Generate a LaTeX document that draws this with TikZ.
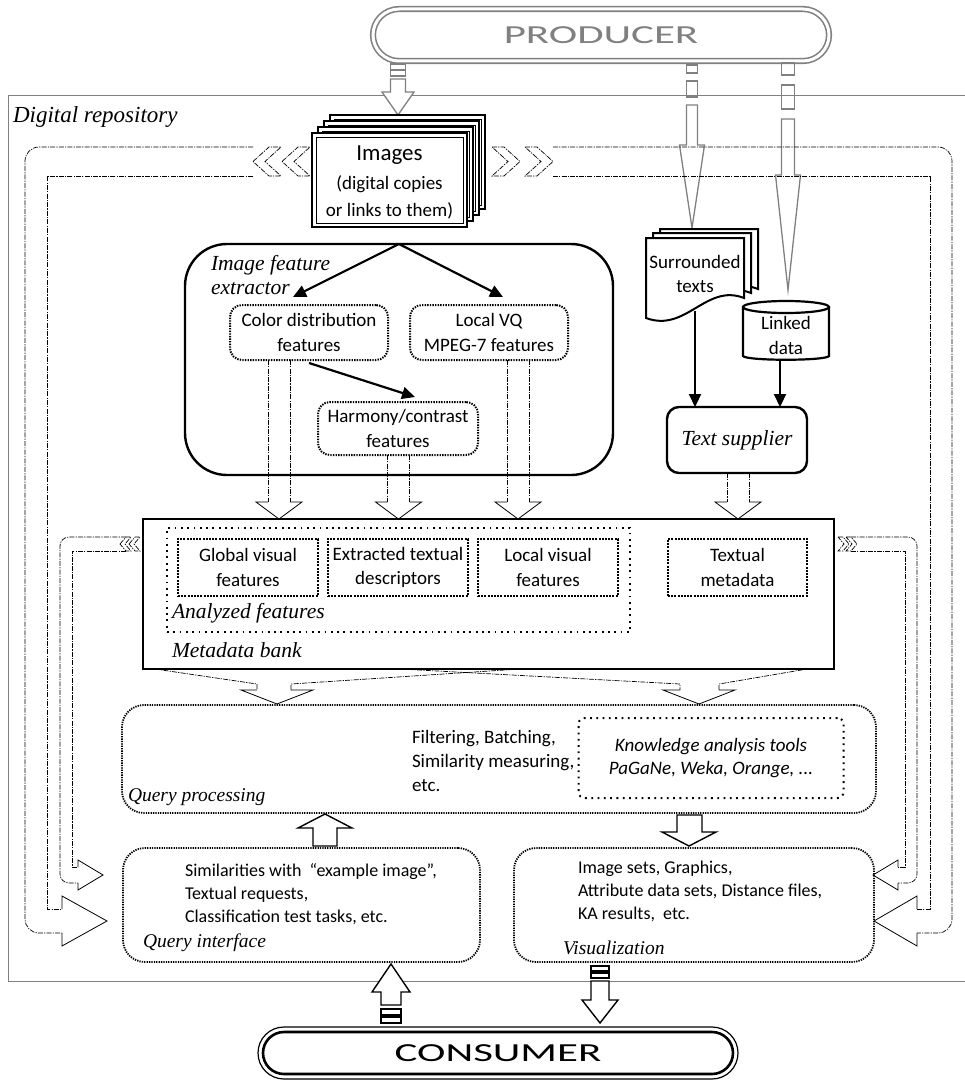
\documentclass[tikz,border=0pt]{standalone}
\usepackage{fontspec}
\setmainfont{Carlito}
\newfontfamily\tagserif{Liberation Serif}
\usetikzlibrary{arrows.meta,calc}

\tikzset{
  every node/.style={inner sep=0pt, outer sep=0pt, align=center},
  txt/.style={font=\fontsize{19}{24.5}\selectfont},
  txtlow/.style={font=\fontsize{18}{23}\selectfont},
  tagtxt/.style={font=\fontsize{21.5}{24}\selectfont\tagserif\itshape},
  tagsmall/.style={font=\fontsize{19.5}{22}\selectfont\tagserif\itshape},
  pilltxt/.style={font=\fontsize{26}{26}\selectfont},
  dashdot/.style={line width=0.7pt, dash pattern=on 5pt off 1.2pt on 1.2pt off 1.2pt},
  headline/.style={line width=0.8pt},
  roundbox/.style={draw, line width=2.4pt, rounded corners=12pt},
  featbox/.style={draw, line width=2pt, dash pattern=on 1.4pt off 1.2pt, rounded corners=12pt},
  anbox/.style={draw, line width=2.2pt, dash pattern=on 2pt off 1.2pt},
  spdot/.style={draw, line width=2pt, dash pattern=on 1.8pt off 4.5pt},
  procbox/.style={draw, line width=1.8pt, dash pattern=on 1.3pt off 1.1pt, rounded corners=22pt},
  flow/.style={line width=2.2pt, -{Triangle[length=13pt,width=12pt]}},
  block/.style={draw, line width=1.4pt, fill=white},
  gblock/.style={draw=gray, line width=1.3pt},
}

% hollow downward arrow: x centre, shaft top, head top, tip
\newcommand{\featarrow}[4]{%
  \draw[dashdot] ({#1-11},#2) -- ({#1-11},#3);
  \draw[dashdot] ({#1+11},#2) -- ({#1+11},#3);
  \draw[headline] ({#1-11},#3) -- ({#1-23},#3) -- (#1,#4) -- ({#1+23},#3) -- ({#1+11},#3);
}
% chevron pointing left: tip x, top y, bottom y, depth, thickness
\newcommand{\chevleft}[5]{%
  \draw[dashdot] (#1,{(#2+#3)/2}) -- ({#1+#4},#2) -- ({#1+#4+#5},#2) -- ({#1+#5},{(#2+#3)/2})
    -- ({#1+#4+#5},#3) -- ({#1+#4},#3) -- cycle;
}
% chevron pointing right: back x, top y, bottom y, depth, thickness
\newcommand{\chevright}[5]{%
  \draw[dashdot] (#1,#2) -- ({#1+#5},#2) -- ({#1+#4+#5},{(#2+#3)/2}) -- ({#1+#5},#3)
    -- (#1,#3) -- ({#1+#4},{(#2+#3)/2}) -- cycle;
}

\begin{document}
\begin{tikzpicture}[x=1pt,y=-1pt]
\useasboundingbox (0,0) rectangle (965,1081);

% ---------- repository frame ----------
\draw[gray, line width=1pt] (968,95) -- (8,95) -- (8,981) -- (968,981);
\node[tagtxt, font=\fontsize{23}{24}\selectfont\tagserif\itshape, anchor=west] (repo) at (13,117) {Digital repository};

% ---------- producer ----------
\node[draw=gray, line width=1.6pt, double=white, double distance=3pt, rounded corners=26pt,
      minimum width=456pt, minimum height=52pt, text=gray, pilltxt] (producer) at (601,35) {\scalebox{1.65}[1]{PRODUCER}};

% striped arrow to the image store
\draw[gblock] (390.5,64) rectangle (405.5,70);
\draw[gblock] (390.5,70) rectangle (405.5,76);
\draw[gblock, fill=white] (390.5,79) -- (390.5,92) -- (382,92) -- (398,115) -- (414,92) -- (405.5,92) -- (405.5,79) -- cycle;

% striped arrows to the text sources
\draw[gblock] (686.5,65) rectangle (697.5,73);
\draw[gblock] (686.5,81) rectangle (697.5,97);
\draw[gblock] (686.5,105) -- (686.5,145) -- (679.5,145) -- (692,228) -- (704.5,145) -- (697.5,145) -- (697.5,105) -- cycle;
\draw[gblock] (781.5,63) rectangle (794.5,75);
\draw[gblock] (781.5,85) rectangle (794.5,109);
\draw[gblock] (781.5,119) -- (781.5,175) -- (775.5,175) -- (788,290) -- (800.5,175) -- (794.5,175) -- (794.5,119) -- cycle;

% ---------- outer loop (image store -> interfaces) ----------
\chevleft{253}{147}{176}{16}{12}
\chevleft{282}{147}{176}{16}{12}
\chevright{492}{147}{176}{16}{12}
\chevright{525}{147}{176}{16}{12}
\draw[dashdot, rounded corners=14pt] (253,147) -- (25,147) -- (25,933) -- (62,933);
\draw[dashdot] (253,176) -- (47,176) -- (47,909) -- (62,909);
\draw[headline] (62,909) -- (62,896) -- (107,921) -- (62,946) -- (62,933);
\draw[dashdot, rounded corners=14pt] (553,147) -- (952,147) -- (952,933) -- (917,933);
\draw[dashdot] (553,176) -- (930,176) -- (930,909) -- (917,909);
\draw[headline] (917,909) -- (917,896) -- (874,921) -- (917,946) -- (917,933);

% ---------- image store ----------
\foreach \k in {3,2,1} {
  \draw[line width=2.2pt, fill=white] ({312+6*\k},{133-6*\k}) rectangle ({467+6*\k},{227-6*\k});
  \draw[line width=0.8pt] ({316+6*\k},{137-6*\k}) rectangle ({463+6*\k},{223-6*\k});
}
\node[draw, line width=2.2pt, fill=white, minimum width=155pt, minimum height=94pt] (images) at (389.5,180) {};
\draw[line width=0.8pt] ($(images.south west)+(4,-4)$) rectangle ($(images.north east)+(-4,4)$);
\node[font=\fontsize{23}{23}\selectfont] (imgtitle) at (389.5,155) {Images};
\node[font=\fontsize{19}{27}\selectfont] (imgsub) at (389.5,197) {(digital copies\\or links to them)};

% ---------- image feature extractor ----------
\node[roundbox, rounded corners=42pt, minimum width=428pt, minimum height=231pt] (extractor) at (399,359.5) {};
\node[tagtxt, anchor=west, align=left] (extlabel) at (211,275) {Image feature\\extractor};
\node[featbox, txt, minimum width=158pt, minimum height=55pt] (colordist) at (309,332.5) {Color distribution\\features};
\node[featbox, txt, minimum width=158pt, minimum height=55pt] (localvq) at (489,332.5) {Local VQ\\MPEG-7 features};
\node[featbox, txt, minimum width=160pt, minimum height=53pt] (harmony) at (398,428.5) {Harmony/contrast\\features};
\draw[flow] (extractor.north) -- ($(colordist.north)+(-16,-8)$);
\draw[flow] (extractor.north) -- ($(localvq.north)+(14,-8)$);
\draw[flow] ($(colordist.south)+(0,3)$) -- ($(harmony.north)+(17,-5)$);

% ---------- text sources ----------
\foreach \dx/\dy in {14/-9, 7/-5} {
  \draw[line width=2pt, fill=white] ({646+\dx},{238+\dy}) -- ({744+\dx},{238+\dy}) -- ({744+\dx},{298+\dy})
    .. controls ({706+\dx},{283+\dy}) and ({686+\dx},{333+\dy}) .. ({646+\dx},{318+\dy}) -- cycle;
}
\draw[line width=2pt, fill=white] (646,238) -- (744,238) -- (744,298)
  .. controls (706,283) and (686,333) .. (646,318) -- cycle;
\node[txt] (surr) at (695,274) {Surrounded\\texts};
\coordinate (surrbot) at (695,311);

\draw[line width=2.2pt, fill=white] (743,307) -- (743,356) .. controls (746,361) and (826,361) .. (829,356) -- (829,307);
\draw[line width=2.2pt, fill=white] (786,307) ellipse [x radius=43, y radius=6];
\node[txt] (linked) at (786,335.5) {Linked\\data};
\coordinate (linkedbot) at (780,360);

\node[roundbox, tagtxt, minimum width=140pt, minimum height=66pt] (textsup) at (737,440) {Text supplier};
\draw[flow] (surrbot) -- (surrbot |- textsup.north);
\draw[flow] (linkedbot) -- (linkedbot |- textsup.north);

% ---------- feature flows into the metadata bank ----------
\featarrow{279}{360}{502}{519}
\featarrow{398.5}{455}{502}{519}
\featarrow{518}{360}{502}{519}
\featarrow{738}{473}{502}{519}

% ---------- metadata bank ----------
\node[draw, line width=2.4pt, minimum width=691pt, minimum height=150pt] (bank) at (488.5,594) {};
\node[spdot, minimum width=463pt, minimum height=104pt] (analyzed) at (398.5,580) {};
\node[anbox, txt, minimum width=140pt, minimum height=57pt] (global) at (248,567.5) {Global visual\\features};
\node[anbox, txt, minimum width=140pt, minimum height=57pt] (extracted) at (398,567.5) {Extracted textual\\descriptors};
\node[anbox, txt, minimum width=140pt, minimum height=57pt] (localvis) at (548,567.5) {Local visual\\features};
\node[anbox, txt, minimum width=139pt, minimum height=57pt] (textmeta) at (737.5,567.5) {Textual\\metadata};
\node[tagtxt, anchor=west] (anlabel) at (172,613) {Analyzed features};
\node[tagtxt, anchor=west] (banklabel) at (172,650) {Metadata bank};

% ---------- inner loop (metadata bank -> interfaces) ----------
\chevleft{120}{537}{551}{6}{5}
\chevleft{129}{537}{551}{6}{5}
\chevright{838}{537}{551}{6}{5}
\chevright{846}{537}{551}{6}{5}
\draw[dashdot, rounded corners=9pt] (126,537) -- (60,537) -- (60,883) -- (78,883);
\draw[dashdot] (126,551) -- (72,551) -- (72,867) -- (78,867);
\draw[headline] (78,867) -- (78,860) -- (103,875) -- (78,890) -- (78,883);
\draw[dashdot, rounded corners=9pt] (851,537) -- (917,537) -- (917,883) -- (898,883);
\draw[dashdot] (851,551) -- (905,551) -- (905,867) -- (898,867);
\draw[headline] (898,867) -- (898,860) -- (873,875) -- (898,890) -- (898,883);

% ---------- bank -> query processing ----------
\draw[dashdot] (155,669) -- (257,684) -- (257,690);
\draw[dashdot] (291,690) -- (291,684) -- (520,669);
\draw[headline] (257,690) -- (241,690) -- (277,704) -- (313,690) -- (291,690);
\draw[dashdot] (400,669) -- (680,684) -- (680,690);
\draw[dashdot] (719,690) -- (719,684) -- (807,669);
\draw[headline] (680,690) -- (663,690) -- (699,704) -- (735,690) -- (719,690);

% ---------- query processing ----------
\node[procbox, minimum width=754pt, minimum height=108pt] (qp) at (499,759) {};
\node[font=\fontsize{19}{24}\selectfont, anchor=west, align=left] (qptext) at (412,761) {Filtering, Batching,\\Similarity measuring,\\etc.};
\node[spdot, rounded corners=6pt, minimum width=265pt, minimum height=80pt,
      font=\fontsize{19}{23}\selectfont\itshape] (ka) at (711,758) {Knowledge analysis tools\\PaGaNe, Weka, Orange, ...};
\node[tagsmall, anchor=west] (qplabel) at (128,797) {Query processing};

% ---------- interfaces ----------
\node[procbox, minimum width=357pt, minimum height=114pt] (qi) at (301.5,905) {};
\node[procbox, minimum width=360pt, minimum height=114pt] (vis) at (694,905) {};
\node[txtlow, anchor=west, align=left] (qitext) at (185,894) {Similarities with\ \ “example image”,\\Textual requests,\\Classification test tasks, etc.};
\node[tagsmall, anchor=west] (qilabel) at (143,943) {Query interface};
\node[txtlow, anchor=west, align=left] (vistext) at (578,891) {Image sets, Graphics,\\Attribute data sets, Distance files,\\KA results,\ \ etc.};
\node[tagsmall, anchor=west] (vislabel) at (563,948) {Visualization};

% block arrows between processing and interfaces
\draw[block] (313,846) -- (313,828) -- (298,828) -- (325,814) -- (352,828) -- (337,828) -- (337,846) -- cycle;
\draw[block] (677,815) -- (677,832) -- (662,832) -- (689,846) -- (716,832) -- (702,832) -- (702,815) -- cycle;

% ---------- consumer ----------
\node[draw, line width=1.2pt, rounded corners=26pt, minimum width=480pt, minimum height=52pt] (consumer) at (498,1053) {};
\draw[line width=2.6pt, rounded corners=21pt] ($(consumer.south west)+(5,-5)$) rectangle ($(consumer.north east)+(-5,5)$);
\node[pilltxt] (consumertxt) at (consumer) {\scalebox{1.65}[1]{CONSUMER}};

% striped arrow from consumer to query interface
\draw[block] (381,1005) -- (381,992) -- (372,992) -- (391,964) -- (410,992) -- (401,992) -- (401,1005) -- cycle;
\draw[block] (381,1009) rectangle (401,1015);
\draw[block] (381,1017) rectangle (401,1023);
% striped arrow from visualization to consumer
\draw[block] (591,966) rectangle (609,971);
\draw[block] (591,973) rectangle (609,978);
\draw[block] (591,981) -- (591,1000) -- (582,1000) -- (600,1023) -- (618,1000) -- (609,1000) -- (609,981) -- cycle;

\end{tikzpicture}
\end{document}
